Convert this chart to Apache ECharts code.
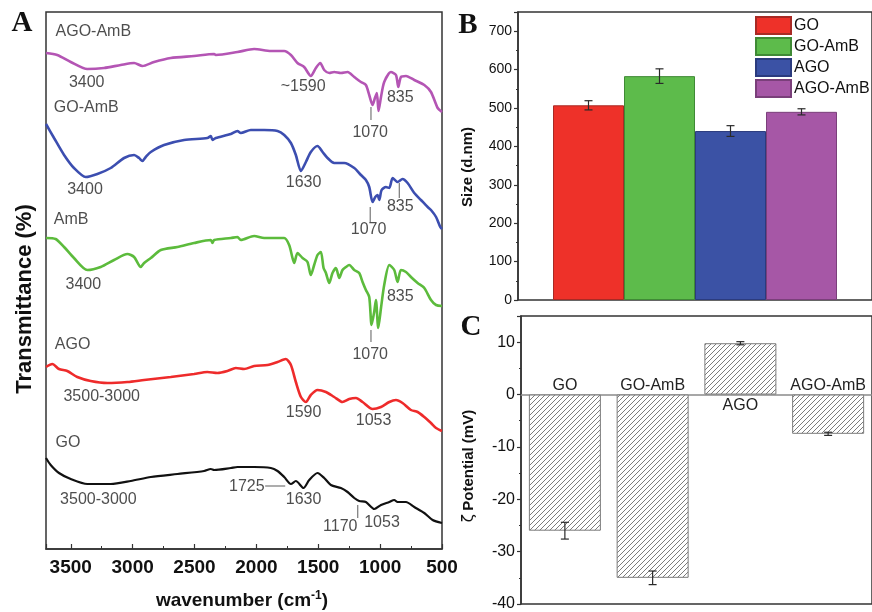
<!DOCTYPE html>
<html>
<head>
<meta charset="utf-8">
<script src="https://cdn.jsdelivr.net/npm/echarts@6/dist/echarts.min.js"></script>
<style>html,body{margin:0;padding:0;background:#fff}#chart{width:872px;height:612px}</style>
</head>
<body>
<div id="chart"></div>
<script>
// ---------- Panel A: FTIR spectra (wavenumber, offset transmittance, arbitrary units) ----------
const spectrumAGOAmB = [[3700,496],[3609,494],[3500,487],[3366,480],[3231,481],[3096,484],[2988,486],[2921,483],[2827,487],[2692,491],[2503,493],[2341,495],[2328,494],[2153,497],[2018,500],[1883,498],[1775,498],[1721,494],[1668,486],[1614,482],[1560,473],[1519,481],[1484,486],[1452,479],[1411,476],[1371,477],[1317,476],[1263,477],[1209,472],[1155,467],[1115,464],[1088,454],[1061,444],[1042,451],[1026,456],[1013,438],[993,452],[967,467],[913,477],[872,474],[853,462],[832,472],[791,473],[724,469],[643,464],[589,457],[535,441],[500,437]];
const spectrumGOAmB = [[3700,425],[3635,411],[3554,394],[3474,381],[3379,372],[3285,375],[3177,381],[3069,391],[2988,394],[2948,391],[2921,388],[2894,392],[2853,397],[2746,404],[2584,409],[2396,411],[2368,413],[2355,409],[2328,411],[2206,415],[2153,418],[2126,416],[2045,419],[1937,419],[1829,418],[1775,414],[1721,406],[1681,394],[1640,378],[1600,387],[1560,397],[1506,403],[1465,397],[1425,391],[1371,386],[1290,386],[1209,381],[1155,374],[1115,369],[1088,362],[1061,347],[1039,352],[1021,354],[1007,349],[988,359],[953,362],[926,361],[899,371],[859,367],[819,370],[778,366],[724,356],[670,349],[616,342],[589,339],[548,332],[514,322],[500,320]];
const spectrumAmB = [[3700,311],[3622,310],[3554,302],[3474,291],[3366,279],[3258,282],[3150,289],[3042,295],[2988,292],[2934,282],[2907,286],[2853,291],[2772,299],[2638,302],[2503,306],[2368,309],[2355,306],[2341,309],[2206,311],[2153,312],[2126,309],[2018,313],[1937,311],[1775,311],[1735,304],[1708,291],[1694,286],[1668,296],[1627,291],[1587,287],[1560,274],[1533,284],[1506,294],[1479,297],[1457,281],[1438,276],[1411,266],[1385,276],[1357,281],[1330,271],[1304,279],[1276,282],[1250,284],[1209,279],[1169,276],[1142,267],[1115,259],[1088,252],[1069,224],[1048,237],[1034,249],[1015,221],[993,241],[967,264],[926,284],[886,279],[859,267],[832,279],[791,277],[751,272],[697,266],[643,261],[589,249],[548,244],[500,243]];
const spectrumAGO = [[3700,182],[3649,185],[3595,180],[3528,178],[3447,172],[3339,168],[3204,166],[3042,167],[2907,169],[2692,172],[2503,175],[2396,177],[2315,176],[2234,178],[2166,181],[2099,180],[2018,183],[1910,184],[1829,187],[1762,190],[1721,184],[1681,167],[1640,152],[1600,147],[1560,154],[1506,159],[1438,157],[1371,152],[1304,147],[1250,150],[1195,151],[1142,147],[1061,140],[993,142],[926,147],[872,149],[819,146],[751,139],[697,137],[643,132],[589,126],[548,121],[500,118]];
const spectrumGO = [[3700,91],[3662,84],[3595,76],[3500,70],[3366,65],[3177,65],[3015,68],[2853,72],[2638,75],[2422,78],[2368,80],[2341,79],[2206,81],[2153,82],[2018,82],[1883,81],[1829,78],[1775,72],[1721,65],[1681,68],[1619,61],[1573,69],[1506,76],[1452,71],[1398,64],[1317,61],[1263,57],[1209,51],[1169,48],[1115,47],[1047,40],[993,44],[926,47],[886,49],[859,47],[791,47],[724,42],[643,36],[576,29],[500,26]];

// curve names and peak annotations: [wavenumber, level, text]
const curveNames = [[3627,517,'AGO-AmB'],[3641,441,'GO-AmB'],[3641,329,'AmB'],[3633,204,'AGO'],[3627,106,'GO']];
const peakLabels = [[3371,466,'3400'],[1622,462,'~1590'],[837,451,'835'],[1080,416,'1070'],
  [3385,359,'3400'],[1619,366,'1630'],[837,342,'835'],[1093,319,'1070'],
  [3398,264,'3400'],[837,252,'835'],[1080,194,'1070'],
  [3250,152,'3500-3000'],[1619,136,'1590'],[1053,128,'1053'],
  [3277,49,'3500-3000'],[2077,62,'1725'],[1619,49,'1630'],[1322,22,'1170'],[985,26,'1053']];
// leader lines: [wn1, level1, wn2, level2]
const peakLeaders = [[1074,442,1074,429],[845,366,845,351],[1080,342,1080,327],[1074,219,1074,207],[1929,63,1767,63],[1181,44,1181,31]];

// ---------- Panel B: hydrodynamic size ----------
const sampleNames = ['GO','GO-AmB','AGO','AGO-AmB'];
const sizeMean = [507, 583, 440, 490];
const sizeErr = [12, 19, 14, 8];

// ---------- Panel C: zeta potential ----------
const zetaMean = [-26, -35, 9.8, -7.5];
const zetaErr = [1.6, 1.3, 0.3, 0.3];

const FONT = '"Liberation Sans", Arial, sans-serif';
const SERIF = '"Liberation Serif", "Times New Roman", serif';
const sizeColors = ['#ee3129','#5dbb4b','#3b52a5','#a657a6'];
const sizeBorders = ['#a82a24','#3f8a35','#2b3b7e','#7a3f7a'];
const specColors = {GO:'#111111', AGO:'#ee2b2b', AmB:'#5cbb3c', 'GO-AmB':'#3c4eb0', 'AGO-AmB':'#b455b4'};
const BAR_B = 71;

function hatch() {
  const s = 5, c = document.createElement('canvas');
  c.width = s; c.height = s;
  const g = c.getContext('2d');
  g.fillStyle = '#ffffff'; g.fillRect(0, 0, s, s);
  g.strokeStyle = '#7c7c7c'; g.lineWidth = 1;
  g.beginPath();
  g.moveTo(0, s); g.lineTo(s, 0);
  g.moveTo(-1, 1); g.lineTo(1, -1);
  g.moveTo(s - 1, s + 1); g.lineTo(s + 1, s - 1);
  g.stroke();
  return c;
}

function errBar(offsetFn) {
  return function (params, api) {
    const x = api.value(0), m = api.value(1), e = api.value(2);
    const t = api.coord([x, m + e]), b = api.coord([x, m - e]);
    const cx = t[0] + offsetFn(params.dataIndex), w = 4;
    const st = {stroke: '#2a2a2a', lineWidth: 1.2};
    return {type: 'group', children: [
      {type: 'line', shape: {x1: cx, y1: t[1], x2: cx, y2: b[1]}, style: st},
      {type: 'line', shape: {x1: cx - w, y1: t[1], x2: cx + w, y2: t[1]}, style: st},
      {type: 'line', shape: {x1: cx - w, y1: b[1], x2: cx + w, y2: b[1]}, style: st}
    ]};
  };
}

const chart = echarts.init(document.getElementById('chart'));
const axisDark = {color: '#333', width: 1.5};

const specSeries = [
  ['AGO-AmB', spectrumAGOAmB], ['GO-AmB', spectrumGOAmB], ['AmB', spectrumAmB], ['AGO', spectrumAGO], ['GO', spectrumGO]
].map(([n, d]) => ({
  name: 'FTIR ' + n, type: 'line', xAxisIndex: 0, yAxisIndex: 0, data: d, showSymbol: false, smooth: 0.25,
  lineStyle: {color: specColors[n], width: n === 'GO' ? 2.2 : 2.6}, itemStyle: {color: specColors[n]}, silent: true, z: 3
}));

const option = {
  animation: false,
  textStyle: {fontFamily: FONT},
  grid: [
    {left: 46, top: 12, width: 396, height: 537, show: true, borderColor: '#333', borderWidth: 1.5},
    {left: 518, top: 12, width: 359, height: 288, show: true, borderColor: '#333', borderWidth: 1.5},
    {left: 521, top: 316, width: 357, height: 288, show: true, borderColor: '#333', borderWidth: 1.5}
  ],
  xAxis: [
    {gridIndex: 0, type: 'value', min: 500, max: 3700, interval: 500, inverse: true,
     axisLine: {show: true, lineStyle: axisDark},
     axisTick: {show: true, inside: true, length: 5, lineStyle: {color: '#333', width: 1.2}},
     minorTick: {show: true, splitNumber: 2, length: 3, lineStyle: {color: '#333', width: 1}},
     splitLine: {show: false}, minorSplitLine: {show: false},
     axisLabel: {color: '#111', fontSize: 19, fontWeight: 'bold', margin: 9, fontFamily: FONT, showMaxLabel: false,
                 formatter: v => String(v)}},
    {gridIndex: 1, type: 'category', data: [''], axisLine: {show: false}, axisTick: {show: false}, axisLabel: {show: false}},
    {gridIndex: 2, type: 'category', data: sampleNames,
     axisLine: {show: true, onZero: true, lineStyle: {color: '#8a8a8a', width: 1.5}},
     axisTick: {show: false}, axisLabel: {show: false}}
  ],
  yAxis: [
    {gridIndex: 0, type: 'value', min: 0, max: 537, axisLine: {show: false}, axisTick: {show: false},
     axisLabel: {show: false}, splitLine: {show: false}},
    {gridIndex: 1, type: 'value', min: 0, max: 750, interval: 100,
     axisLine: {show: true, lineStyle: axisDark},
     axisTick: {show: true, length: 4, lineStyle: {color: '#333', width: 1.2}},
     minorTick: {show: true, splitNumber: 2, length: 2, lineStyle: {color: '#333'}},
     splitLine: {show: false}, minorSplitLine: {show: false},
     axisLabel: {color: '#111', fontSize: 14, margin: 6, showMaxLabel: false}},
    {gridIndex: 2, type: 'value', min: -40, max: 15, interval: 10,
     axisLine: {show: true, lineStyle: axisDark},
     axisTick: {show: true, length: 4, lineStyle: {color: '#333', width: 1.2}},
     minorTick: {show: true, splitNumber: 2, length: 2, lineStyle: {color: '#333'}},
     splitLine: {show: false}, minorSplitLine: {show: false},
     axisLabel: {color: '#111', fontSize: 16, margin: 6, showMaxLabel: false}}
  ],
  legend: {
    data: sampleNames, orient: 'vertical', left: 755, top: 16, itemWidth: 35, itemHeight: 17, itemGap: 2,
    padding: 0, icon: 'rect', textStyle: {fontSize: 16, color: '#111', padding: [0, 0, 0, -2]}, selectedMode: false
  },
  graphic: [
    {type: 'text', x: 22, y: 24, silent: true, style: {text: 'A', fontSize: 29, fontWeight: 'bold', fontFamily: SERIF, fill: '#111', align: 'center', verticalAlign: 'middle'}},
    {type: 'text', x: 468, y: 26, silent: true, style: {text: 'B', fontSize: 29, fontWeight: 'bold', fontFamily: SERIF, fill: '#111', align: 'center', verticalAlign: 'middle'}},
    {type: 'text', x: 471, y: 328, silent: true, style: {text: 'C', fontSize: 29, fontWeight: 'bold', fontFamily: SERIF, fill: '#111', align: 'center', verticalAlign: 'middle'}},
    {type: 'text', x: 25, y: 299, rotation: Math.PI / 2, silent: true, style: {text: 'Transmittance (%)', fontSize: 22, fontWeight: 'bold', fontFamily: FONT, fill: '#111', align: 'center', verticalAlign: 'middle'}},
    {type: 'text', x: 242, y: 601, silent: true, style: {text: '{a|wavenumber (cm}{s|-1}{a|)}', align: 'center', verticalAlign: 'middle',
      rich: {a: {fontSize: 19, fontWeight: 'bold', fontFamily: FONT, fill: '#111', lineHeight: 22},
             s: {fontSize: 12, fontWeight: 'bold', fontFamily: FONT, fill: '#111', verticalAlign: 'top', lineHeight: 12}}}},
    {type: 'text', x: 468, y: 167, rotation: Math.PI / 2, silent: true, style: {text: 'Size (d.nm)', fontSize: 15, fontWeight: 'bold', fontFamily: FONT, fill: '#111', align: 'center', verticalAlign: 'middle'}},
    {type: 'text', x: 469, y: 466, rotation: Math.PI / 2, silent: true, style: {text: '{z|ζ} {b|Potential (mV)}', align: 'center', verticalAlign: 'middle',
      rich: {z: {fontSize: 15, fontFamily: '"DejaVu Sans", sans-serif', fill: '#111'},
             b: {fontSize: 15, fontWeight: 'bold', fontFamily: FONT, fill: '#111'}}}}
  ],
  series: [
    ...specSeries,
    {type: 'scatter', xAxisIndex: 0, yAxisIndex: 0, data: curveNames, symbolSize: 1, itemStyle: {color: 'rgba(0,0,0,0)'}, silent: true, z: 5,
     label: {show: true, position: 'right', distance: 0, formatter: p => p.value[2], fontSize: 16, color: '#222', fontFamily: FONT}},
    {type: 'scatter', xAxisIndex: 0, yAxisIndex: 0, data: peakLabels, symbolSize: 1, itemStyle: {color: 'rgba(0,0,0,0)'}, silent: true, z: 5,
     label: {show: true, position: 'inside', formatter: p => p.value[2], fontSize: 16, color: '#222', fontFamily: FONT}},
    {type: 'custom', xAxisIndex: 0, yAxisIndex: 0, data: peakLeaders, silent: true, z: 4,
     renderItem: (params, api) => {
       const a = api.coord([api.value(0), api.value(1)]), b = api.coord([api.value(2), api.value(3)]);
       return {type: 'line', shape: {x1: a[0], y1: a[1], x2: b[0], y2: b[1]}, style: {stroke: '#777', lineWidth: 1.2}};
     }},
    ...sampleNames.map((n, i) => ({
      name: n, type: 'bar', xAxisIndex: 1, yAxisIndex: 1, data: [sizeMean[i]], barWidth: BAR_B, barGap: '0%', silent: true,
      itemStyle: {color: sizeColors[i], borderColor: sizeBorders[i], borderWidth: 1}
    })),
    {type: 'custom', xAxisIndex: 1, yAxisIndex: 1, silent: true, z: 6,
     data: sizeMean.map((m, i) => [0, m, sizeErr[i]]),
     renderItem: errBar(i => (i - 1.5) * BAR_B)},
    {type: 'bar', xAxisIndex: 2, yAxisIndex: 2, barWidth: 72, silent: true,
     data: zetaMean.map((v, i) => ({value: v, label: {position: v < 0 ? 'top' : 'bottom', distance: v < 0 ? 1 : 3}})),
     itemStyle: {color: {image: hatch(), repeat: 'repeat'}, borderColor: '#7c7c7c', borderWidth: 1},
     label: {show: true, formatter: p => sampleNames[p.dataIndex], fontSize: 16, color: '#222', fontFamily: FONT}},
    {type: 'custom', xAxisIndex: 2, yAxisIndex: 2, silent: true, z: 6,
     data: zetaMean.map((m, i) => [i, m, zetaErr[i]]),
     renderItem: errBar(() => 0)}
  ]
};
chart.setOption(option);
</script>
</body>
</html>
